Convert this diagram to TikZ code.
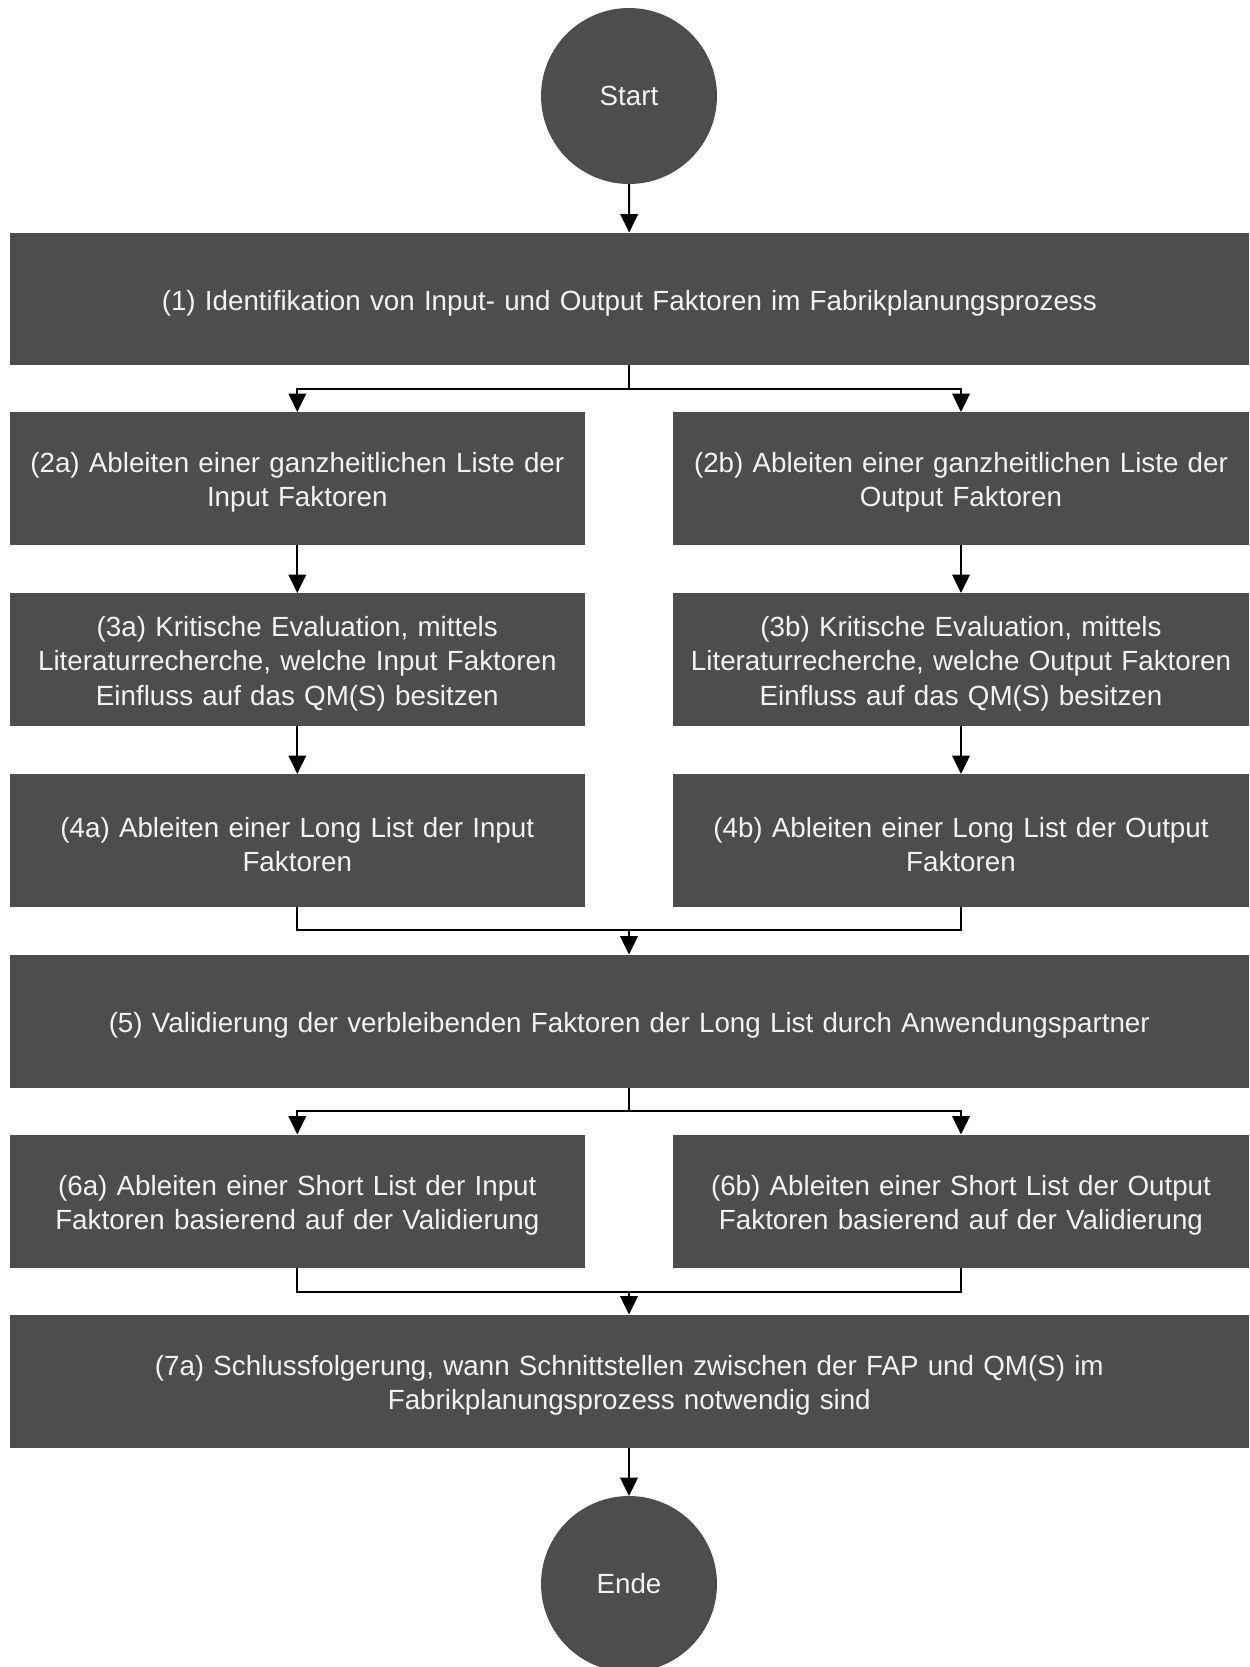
\documentclass[tikz,border=0pt]{standalone}
\usepackage{fontspec}
\setmainfont{Liberation Sans}
\usetikzlibrary{arrows.meta}
\definecolor{boxgray}{RGB}{77,77,77}
\definecolor{txt}{RGB}{242,242,242}
\begin{document}
\begin{tikzpicture}[x=0.02cm,y=-0.02cm,
  every node/.style={inner sep=0pt,outer sep=0pt},
  lbl/.style={text=txt,align=center,yshift=-0.085cm,
    font=\fontsize{15.8}{19.4}\selectfont},
  procbox/.style={fill=boxgray,minimum height=2.66cm},
  wide/.style={procbox,minimum width=24.79cm,label={[lbl,text width=24.5cm]center:{#1}}},
  half/.style={procbox,minimum width=11.51cm,label={[lbl,text width=11.5cm]center:{#1}}},
  term/.style={circle,fill=boxgray,text=txt,minimum size=3.52cm,
    font=\fontsize{15.8}{19.4}\selectfont},
  conn/.style={line width=1.1pt,-{Triangle[width=10pt,length=10.5pt]}},
  plain/.style={line width=1.1pt}]
\useasboundingbox (0,0) rectangle (1249,1667);
\node[term] (start) at (629,96) {Start};
\node[wide={(1) Identifikation von Input- und Output Faktoren im Fabrikplanungsprozess}] (b1) at (629.3,299) {};
\node[half={(2a) Ableiten einer ganzheitlichen Liste der\\Input Faktoren}] (b2a) at (297.3,478.5) {};
\node[half={(2b) Ableiten einer ganzheitlichen Liste der\\Output Faktoren}] (b2b) at (961,478.5) {};
\node[half={(3a) Kritische Evaluation, mittels\\Literaturrecherche, welche Input Faktoren\\Einfluss auf das QM(S) besitzen}] (b3a) at (297.3,659.5) {};
\node[half={(3b) Kritische Evaluation, mittels\\Literaturrecherche, welche Output Faktoren\\Einfluss auf das QM(S) besitzen}] (b3b) at (961,659.5) {};
\node[half={(4a) Ableiten einer Long List der Input\\Faktoren}] (b4a) at (297.3,840.5) {};
\node[half={(4b) Ableiten einer Long List der Output\\Faktoren}] (b4b) at (961,840.5) {};
\node[wide={(5) Validierung der verbleibenden Faktoren der Long List durch Anwendungspartner}] (b5) at (629.3,1021) {};
\node[half={(6a) Ableiten einer Short List der Input\\Faktoren basierend auf der Validierung}] (b6a) at (297.3,1201) {};
\node[half={(6b) Ableiten einer Short List der Output\\Faktoren basierend auf der Validierung}] (b6b) at (961,1201) {};
\node[wide={(7a) Schlussfolgerung, wann Schnittstellen zwischen der FAP und QM(S) im\\Fabrikplanungsprozess notwendig sind}] (b7) at (629.3,1381) {};
\node[term] (ende) at (629,1584) {Ende};
\coordinate (s1) at (629,389);
\coordinate (m4) at (629,930);
\coordinate (s5) at (629,1111);
\coordinate (m6) at (629,1292);
\draw[conn] (start) -- (b1);
\draw[plain] (b1.south -| s1) -- (s1);
\draw[conn] (s1) -| (b2a.north);
\draw[conn] (s1) -| (b2b.north);
\draw[conn] (b2a) -- (b3a);
\draw[conn] (b2b) -- (b3b);
\draw[conn] (b3a) -- (b4a);
\draw[conn] (b3b) -- (b4b);
\draw[plain] (b4a.south) |- (m4);
\draw[plain] (b4b.south) |- (m4);
\draw[conn] (m4) -- (b5.north -| m4);
\draw[plain] (b5.south -| s5) -- (s5);
\draw[conn] (s5) -| (b6a.north);
\draw[conn] (s5) -| (b6b.north);
\draw[plain] (b6a.south) |- (m6);
\draw[plain] (b6b.south) |- (m6);
\draw[conn] (m6) -- (b7.north -| m6);
\draw[conn] (b7.south -| ende) -- (ende);
\end{tikzpicture}
\end{document}
